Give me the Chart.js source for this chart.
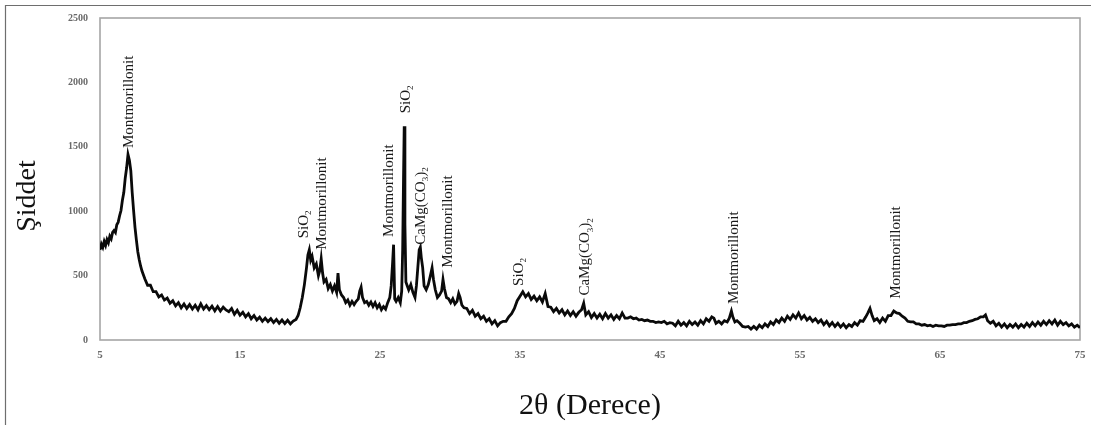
<!DOCTYPE html>
<html>
<head>
<meta charset="utf-8">
<script src="https://cdn.jsdelivr.net/npm/chart.js@4/dist/chart.umd.min.js"></script>
<style>
  html, body { margin: 0; padding: 0; background: #ffffff; }
  #wrap { position: relative; width: 1097px; height: 425px; }
</style>
</head>
<body>
<div id="wrap"><canvas id="c"></canvas></div>
<script>
// ---------------- DATA ----------------
const xTickValues = [5, 15, 25, 35, 45, 55, 65, 75];
const yTickValues = [0, 500, 1000, 1500, 2000, 2500];
const xAxisTitle = "2θ (Derece)";
const yAxisTitle = "Şiddet";

const thetaA = [5.0,5.1,5.2,5.3,5.4,5.5,5.6,5.7,5.8,5.9,6.0,6.1,6.2,6.3,6.4,6.5,6.6,6.7,6.8,6.9,7.0,7.1,7.2,7.3,7.4,7.5,7.6,7.7,7.8,7.9,8.0];
const intA   = [700,745,720,765,735,780,755,805,785,835,850,835,895,915,965,1005,1085,1145,1255,1335,1440,1395,1315,1145,1005,875,775,685,625,575,535];

const thetaB = [8.2,8.4,8.6,8.8,9.0,9.2,9.4,9.6,9.8,10.0,10.2,10.4,10.6,10.8,11.0,11.2,11.4,11.6,11.8,12.0,12.2,12.4,12.6,12.8,13.0,13.2,13.4,13.6,13.8,14.0,14.2,14.4,14.6,14.8,15.0,15.2,15.4,15.6,15.8,16.0,16.2,16.4,16.6,16.8,17.0,17.2,17.4,17.6,17.8,18.0,18.2,18.4,18.6,18.8];
const intB   = [475,425,425,375,375,335,350,310,325,285,305,265,290,250,280,245,275,240,270,235,280,240,267,235,263,227,260,225,255,233,220,245,200,230,193,215,180,205,165,190,155,177,145,170,143,165,135,160,130,155,127,153,125,147];

const thetaC = [19.0,19.15,19.3,19.45,19.6,19.75,19.85,19.95,20.05,20.15,
                20.3,20.45,20.6,20.7,20.8,20.9,21.0,21.15,21.3,21.45,
                21.6,21.75,21.9,22.0,22.1,22.25,22.4,22.55,22.7,22.85,
                23.0,23.15,23.3,23.45,23.55,23.65,23.75,23.9,24.05,24.2,
                24.35,24.5,24.65,24.8,24.95,25.1,25.25,25.4,25.55,25.7,
                25.8,25.9,25.97,26.05,26.15,26.3,26.45,26.55,26.62,26.68,
                26.73,26.78,26.85,26.95,27.05,27.2,27.35,27.5,27.6,27.7,
                27.8,27.88,27.95,28.05,28.15,28.3,28.45,28.6,28.72,28.82,
                28.95,29.1,29.25,29.4,29.5,29.6,29.75,29.9,30.05,30.2,
                30.35,30.5,30.62,30.72,30.85,31.0];
const intC   = [160,190,250,330,430,560,660,700,620,650,
                560,590,500,540,630,520,450,470,400,430,
                380,420,370,520,390,350,330,290,310,270,
                300,275,300,320,380,410,330,290,300,270,
                295,260,290,250,275,235,260,240,290,330,
                420,600,740,320,300,330,290,380,700,1250,
                1660,900,450,420,390,430,370,330,420,560,
                700,720,640,560,420,390,430,500,560,470,
                390,330,350,380,470,400,330,320,290,320,
                280,300,360,330,270,250];

const thetaD = [31.2,31.4,31.6,31.8,32.0,32.2,32.4,32.6,32.8,33.0,
                33.2,33.4,33.6,33.8,34.0,34.2,34.4,34.6,34.8,35.0,
                35.2,35.4,35.6,35.8,36.0,36.2,36.4,36.6,36.8,37.0,
                37.2,37.4,37.6,37.8,38.0,38.2,38.4,38.6,38.8,39.0,
                39.2,39.4,39.55,39.7,39.9,40.1,40.3,40.5,40.7,40.9,
                41.1,41.3,41.5,41.7,41.9,42.1,42.3,42.5,42.7,42.9,
                43.1,43.3,43.5,43.7,43.9,44.1,44.3,44.5,44.7,44.9,
                45.1,45.3,45.5,45.7,45.9,46.1,46.3,46.5,46.7,46.9,
                47.1,47.3,47.5,47.7,47.9,48.1,48.3,48.5,48.7,48.85,
                49.0,49.2,49.4,49.6,49.8,49.95,50.1,50.2,50.35,50.5];
const intD   = [245,205,230,185,205,165,185,145,165,125,
                150,110,135,145,145,180,205,245,305,340,
                375,335,360,315,340,305,335,295,360,260,
                255,220,245,210,235,195,225,190,220,185,
                215,235,285,195,220,175,205,170,200,165,
                205,170,195,160,190,165,210,170,170,180,
                165,170,155,160,150,155,145,145,135,140,
                135,145,125,135,130,110,145,115,135,110,
                145,120,140,115,150,125,165,145,180,170,
                130,145,125,150,140,170,225,180,140,150];

const thetaE = [50.7,50.9,51.1,51.3,51.5,51.7,51.9,52.1,52.3,52.5,
                52.7,52.9,53.1,53.3,53.5,53.7,53.9,54.1,54.3,54.5,
                54.7,54.9,55.1,55.3,55.5,55.7,55.9,56.1,56.3,56.5,
                56.7,56.9,57.1,57.3,57.5,57.7,57.9,58.1,58.3,58.5,
                58.7,58.9,59.1,59.3,59.5,59.7,59.85,60.0,60.15,60.3,
                60.5,60.7,60.9,61.1,61.3,61.5,61.7,61.9,62.1,62.3,
                62.5,62.7,62.9,63.1,63.3,63.5,63.7,63.9,64.1,64.3,
                64.5,64.7,64.9,65.1,65.3,65.5,65.7,65.9,66.1,66.3,
                66.5,66.7,66.9,67.1,67.3,67.5,67.7,67.9,68.1,68.25,
                68.4,68.6,68.8,69.0,69.2,69.4,69.6,69.8,70.0,70.2,
                70.4,70.6,70.8,71.0,71.2,71.4,71.6,71.8,72.0,72.2,
                72.4,72.6,72.8,73.0,73.2,73.4,73.6,73.8,74.0,74.2,
                74.4,74.6,74.8,75.0];
const intE   = [130,105,100,105,85,105,85,115,95,125,
                105,140,120,155,135,170,145,185,160,195,
                170,210,165,190,155,175,145,165,135,155,
                120,145,110,135,105,130,100,125,95,120,
                105,135,115,150,145,180,210,245,190,150,
                165,135,170,145,190,190,225,210,205,185,
                170,145,140,140,125,125,115,120,110,115,
                105,115,110,110,105,115,115,120,120,125,
                125,135,135,145,150,160,165,180,180,195,
                150,130,145,110,130,100,125,95,120,100,
                125,95,120,100,130,105,135,110,140,115,
                145,120,150,125,155,115,145,120,135,110,
                125,100,115,95];

// peak annotations (text starts at this data position, reading upward)
const peakLabels = ["Montmorillonit","SiO₂","Montmorillonit","Montmorillonit","SiO₂","CaMg(CO₃)₂","Montmorillonit","SiO₂","CaMg(CO₃)₂","Montmorillonit","Montmorillonit"];
const peakTheta  = [7.0, 19.5, 20.82, 25.6, 26.75, 27.85, 29.75, 34.85, 39.6, 50.2, 61.8];
const peakLabelY = [1490, 790, 700, 800, 1760, 740, 560, 420, 345, 280, 320];

// ---------------- BUILD ----------------
const twoTheta = [].concat(thetaA, thetaB, thetaC, thetaD, thetaE);
const intensity = [].concat(intA, intB, intC, intD, intE);
const points = [];
const n = Math.min(twoTheta.length, intensity.length);
for (let i = 0; i < n; i++) points.push({ x: twoTheta[i], y: intensity[i] });

const SERIF = "'Liberation Serif', 'Times New Roman', serif";
const SUBS = { '₂': '2', '₃': '3' };

function drawRich(ctx, text, size) {
  let pos = 0;
  for (const ch of text) {
    if (SUBS[ch]) {
      ctx.font = `${Math.round(size * 0.62)}px ${SERIF}`;
      ctx.fillText(SUBS[ch], pos, size * 0.22);
      pos += ctx.measureText(SUBS[ch]).width;
    } else {
      ctx.font = `${size}px ${SERIF}`;
      ctx.fillText(ch, pos, 0);
      pos += ctx.measureText(ch).width;
    }
  }
}

const decorPlugin = {
  id: 'decor',
  beforeDraw(chart) {
    const ctx = chart.ctx;
    ctx.save();
    ctx.strokeStyle = '#6e6e6e';
    ctx.lineWidth = 1.2;
    ctx.beginPath();
    ctx.moveTo(5.5, 425);
    ctx.lineTo(5.5, 5.5);
    ctx.lineTo(1091, 5.5);
    ctx.stroke();
    ctx.restore();
  },
  beforeDatasetsDraw(chart) {
    const { ctx, chartArea: a } = chart;
    ctx.save();
    ctx.strokeStyle = '#a6a6a6';
    ctx.lineWidth = 1.6;
    ctx.strokeRect(a.left, a.top, a.right - a.left, a.bottom - a.top);
    ctx.restore();
  },
  afterDatasetsDraw(chart) {
    const { ctx, scales: { x, y }, chartArea: a } = chart;
    ctx.save();
    ctx.fillStyle = '#1a1a1a';
    ctx.textAlign = 'left';
    ctx.textBaseline = 'alphabetic';
    for (let i = 0; i < peakLabels.length; i++) {
      const px = x.getPixelForValue(peakTheta[i]);
      const py = y.getPixelForValue(peakLabelY[i]);
      ctx.save();
      ctx.translate(px + 5, py);
      ctx.rotate(-Math.PI / 2);
      drawRich(ctx, peakLabels[i], 15);
      ctx.restore();
    }
    // axis titles
    ctx.fillStyle = '#111';
    ctx.font = `30px ${SERIF}`;
    ctx.textAlign = 'center';
    ctx.fillText(xAxisTitle, (a.left + a.right) / 2, 414);
    ctx.font = `28px ${SERIF}`;
    ctx.save();
    ctx.translate(35, 196);
    ctx.rotate(-Math.PI / 2);
    ctx.fillText(yAxisTitle, 0, 0);
    ctx.restore();
    ctx.restore();
  }
};

new Chart(document.getElementById('c'), {
  type: 'line',
  data: {
    datasets: [{
      data: points,
      borderColor: '#0a0a0a',
      borderWidth: 2.8,
      pointRadius: 0,
      tension: 0,
      fill: false
    }]
  },
  options: {
    responsive: true,
    maintainAspectRatio: false,
    animation: false,
    layout: { padding: { left: 0, right: 17, top: 13, bottom: 0 } },
    plugins: { legend: { display: false }, tooltip: { enabled: false } },
    scales: {
      x: {
        type: 'linear',
        min: 5, max: 75,
        afterFit(s) { s.height = 85; },
        afterBuildTicks(s) { s.ticks = xTickValues.map(v => ({ value: v })); },
        grid: { display: false, drawTicks: false },
        border: { display: false },
        ticks: { padding: 9, color: '#6a6a6a', maxRotation: 0, autoSkip: false,
                 callback: v => String(v),
                 font: { family: SERIF, size: 11, weight: 'bold' } }
      },
      y: {
        min: 0, max: 2500,
        afterFit(s) { s.width = 100; },
        afterBuildTicks(s) { s.ticks = yTickValues.map(v => ({ value: v })); },
        grid: { display: false, drawTicks: false },
        border: { display: false },
        ticks: { padding: 12, color: '#6a6a6a',
                 callback: v => String(v),
                 font: { family: SERIF, size: 10, weight: 'bold' } }
      }
    }
  },
  plugins: [decorPlugin]
});
</script>
</body>
</html>
